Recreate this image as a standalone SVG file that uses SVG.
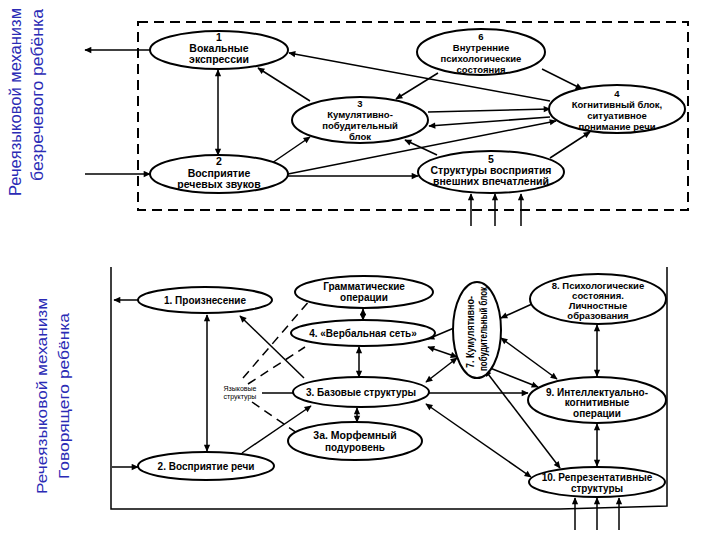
<svg xmlns="http://www.w3.org/2000/svg" width="720" height="540" viewBox="0 0 720 540">
<defs>
<marker id="ah" viewBox="0 0 10 10" refX="9" refY="5" markerWidth="8" markerHeight="7" markerUnits="userSpaceOnUse" orient="auto-start-reverse"><path d="M0,0.5 L10,5 L0,9.5 z" fill="#000"/></marker>
</defs>
<style>
.n ellipse{fill:#fff;stroke:#000;stroke-width:2}
.t{font-family:"Liberation Sans",Arial,sans-serif;font-weight:bold;font-size:10.5px;text-anchor:middle;fill:#000}
.b{font-size:10px}
.s{font-size:9.5px}
.c line,.c path{stroke:#000;stroke-width:1.5;fill:none}
.e{marker-end:url(#ah)}
.d{marker-start:url(#ah);marker-end:url(#ah)}
.dash{stroke-dasharray:9,6}
.lab{font-family:"Liberation Sans",Arial,sans-serif;font-size:16px;fill:#2b2bb5;text-anchor:middle}
</style>
<rect width="720" height="540" fill="#fff"/>

<!-- side labels -->
<text class="lab" transform="translate(21,102) rotate(-90)" textLength="188" lengthAdjust="spacingAndGlyphs">Речеязыковой механизм</text>
<text class="lab" transform="translate(43,95) rotate(-90)" textLength="172" lengthAdjust="spacingAndGlyphs">безречевого ребёнка</text>
<text class="lab" transform="translate(47,396) rotate(-90)" style="font-size:15px" textLength="196" lengthAdjust="spacingAndGlyphs">Речеязыковой механизм</text>
<text class="lab" transform="translate(69,396) rotate(-90)" style="font-size:15px" textLength="166" lengthAdjust="spacingAndGlyphs">Говорящего ребёнка</text>

<!-- frames -->
<rect x="138" y="22" width="550" height="188" fill="none" stroke="#000" stroke-width="2" stroke-dasharray="10,6"/>
<path d="M111,267 V509 H560 L667,506 V267" fill="none" stroke="#000" stroke-width="1.5"/>

<g class="c" id="connectors">
<!-- top -->
<line class="e" x1="150" y1="50" x2="85" y2="50"/>
<line class="e" x1="85" y1="174" x2="150" y2="174"/>
<line class="d" x1="218" y1="70" x2="218" y2="155"/>
<line class="e" x1="310" y1="101" x2="258" y2="68"/>
<line class="e" x1="272" y1="163" x2="310" y2="137"/>
<line class="e" x1="288" y1="174" x2="556" y2="121"/>
<line class="e" x1="288" y1="176" x2="418" y2="176"/>
<line class="e" x1="550" y1="101" x2="289" y2="53"/>
<line class="e" x1="438" y1="73" x2="396" y2="99"/>
<line class="e" x1="542" y1="69" x2="582" y2="89"/>
<line class="e" x1="428" y1="112" x2="550" y2="109"/>
<line class="e" x1="550" y1="117" x2="429" y2="126"/>
<line class="e" x1="437" y1="155" x2="405" y2="140"/>
<line class="e" x1="550" y1="158" x2="590" y2="132"/>
<line class="e" x1="471" y1="226" x2="471" y2="194"/>
<line class="e" x1="495" y1="226" x2="495" y2="194"/>
<line class="e" x1="521" y1="226" x2="521" y2="194"/>
<!-- bottom -->
<line class="e" x1="138" y1="300" x2="114" y2="300"/>
<line class="e" x1="112" y1="467" x2="138" y2="467"/>
<line class="d" x1="207" y1="315" x2="207" y2="451"/>
<line class="d" x1="363" y1="309" x2="363" y2="320"/>
<line class="d" x1="359" y1="347" x2="359" y2="377"/>
<line class="d" x1="357" y1="408" x2="357" y2="422"/>
<line class="e" x1="304" y1="378" x2="240" y2="316"/>
<line class="e" x1="242" y1="453" x2="311" y2="406"/>
<line x1="262" y1="393" x2="293" y2="393"/>
<line class="dash" x1="243" y1="378" x2="310" y2="300"/>
<line class="dash" x1="248" y1="384" x2="305" y2="347"/>
<line class="dash" x1="252" y1="402" x2="297" y2="433"/>
<line class="e" x1="429" y1="393" x2="528" y2="393"/>
<line class="e" x1="532" y1="304" x2="501" y2="318"/>
<line class="e" x1="454" y1="328" x2="428" y2="339"/>
<line class="d" x1="428" y1="347" x2="457" y2="357"/>
<line class="d" x1="457" y1="358" x2="426" y2="382"/>
<line class="d" x1="501" y1="338" x2="557" y2="379"/>
<line class="e" x1="490" y1="368" x2="538" y2="387"/>
<line class="d" x1="485" y1="370" x2="560" y2="468"/>
<line class="d" x1="426" y1="404" x2="531" y2="477"/>
<line class="d" x1="597" y1="325" x2="597" y2="376"/>
<line class="d" x1="597" y1="424" x2="597" y2="466"/>
<line class="e" x1="575" y1="530" x2="575" y2="498"/>
<line class="e" x1="597" y1="530" x2="597" y2="498"/>
<line class="e" x1="619" y1="530" x2="619" y2="498"/>
</g>

<!-- top nodes -->
<g class="n" id="t1"><ellipse cx="219" cy="50" rx="69" ry="19"/><text class="t" x="219" y="41">1</text><text class="t" x="219" y="52">Вокальные</text><text class="t" x="219" y="63">экспрессии</text></g>
<g class="n" id="t2"><ellipse cx="219" cy="174" rx="69" ry="19"/><text class="t" x="219" y="165">2</text><text class="t" x="219" y="177">Восприятие</text><text class="t" x="219" y="188">речевых звуков</text></g>
<g class="n" id="t3"><ellipse cx="360" cy="120" rx="68" ry="23"/><text class="t s" x="360" y="107">3</text><text class="t s" x="360" y="118">Кумулятивно-</text><text class="t s" x="360" y="129">побудительный</text><text class="t s" x="360" y="140">блок</text></g>
<g class="n" id="t6"><ellipse cx="481" cy="52" rx="64" ry="23"/><text class="t s" x="481" y="40">6</text><text class="t s" x="481" y="51">Внутренние</text><text class="t s" x="481" y="62">психологические</text><text class="t s" x="481" y="73">состояния</text></g>
<g class="n" id="t4"><ellipse cx="617" cy="109" rx="68" ry="24"/><text class="t s" x="617" y="97">4</text><text class="t s" x="617" y="108">Когнитивный блок,</text><text class="t s" x="617" y="119">ситуативное</text><text class="t s" x="617" y="130">понимание речи</text></g>
<g class="n" id="t5"><ellipse cx="491" cy="172" rx="73" ry="21"/><text class="t" x="491" y="163">5</text><text class="t" x="491" y="174">Структуры восприятия</text><text class="t" x="491" y="185">внешних впечатлений</text></g>

<!-- bottom nodes -->
<g class="n" id="b1"><ellipse cx="205" cy="300" rx="67" ry="13"/><text class="t b" x="205" y="304">1. Произнесение</text></g>
<g class="n" id="b2"><ellipse cx="206" cy="466" rx="68" ry="14"/><text class="t b" x="206" y="470">2. Восприятие речи</text></g>
<g class="n" id="bg"><ellipse cx="364" cy="292" rx="69" ry="16"/><text class="t b" x="364" y="290">Грамматические</text><text class="t b" x="364" y="301">операции</text></g>
<g class="n" id="b4"><ellipse cx="363" cy="333" rx="72" ry="13"/><text class="t b" x="363" y="337">4. «Вербальная сеть»</text></g>
<g class="n" id="b3"><ellipse cx="361" cy="392" rx="68" ry="15"/><text class="t b" x="361" y="396">3. Базовые структуры</text></g>
<g class="n" id="b3a"><ellipse cx="355" cy="441" rx="67" ry="19"/><text class="t" x="355" y="439">3а. Морфемный</text><text class="t b" x="355" y="451">подуровень</text></g>
<g class="n" id="b7"><ellipse cx="477" cy="330" rx="24" ry="48"/><text class="t b" transform="translate(474,332) rotate(-90)" textLength="72" lengthAdjust="spacingAndGlyphs">7. Кумулятивно-</text><text class="t b" transform="translate(487,329) rotate(-90)" textLength="84" lengthAdjust="spacingAndGlyphs">побудительный блок</text></g>
<g class="n" id="b8"><ellipse cx="598" cy="299" rx="68" ry="25"/><text class="t s" x="598" y="289">8. Психологические</text><text class="t s" x="598" y="299">состояния.</text><text class="t s" x="598" y="309">Личностные</text><text class="t s" x="598" y="319">образования</text></g>
<g class="n" id="b9"><ellipse cx="597" cy="400" rx="69" ry="23"/><text class="t b" x="597" y="396">9. Интеллектуально-</text><text class="t b" x="597" y="406">когнитивные</text><text class="t b" x="597" y="417">операции</text></g>
<g class="n" id="b10"><ellipse cx="597" cy="482" rx="68" ry="15"/><text class="t b" x="597" y="481">10. Репрезентативные</text><text class="t b" x="597" y="492">структуры</text></g>
<g id="lang"><text class="t" style="font-size:7px;font-weight:normal" x="240" y="391">Языковые</text><text class="t" style="font-size:7px;font-weight:normal" x="240" y="399">структуры</text></g>
</svg>
